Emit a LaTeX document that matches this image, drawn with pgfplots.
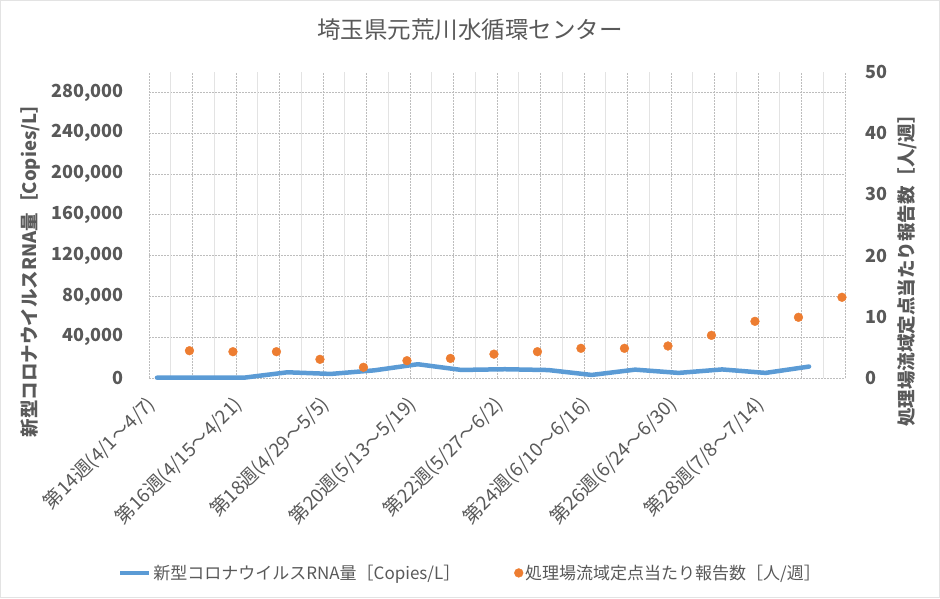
\documentclass[border=0pt]{standalone}
\usepackage{fontspec}
\setmainfont{Noto Sans CJK JP}
\usepackage{pgfplots}
\pgfplotsset{compat=1.18}
\pgfplotsset{legline/.style={legend image code/.code={\draw[##1] (0pt,0pt) -- (29pt,0pt);}}}
\definecolor{txt}{HTML}{595959}
\definecolor{lineblue}{HTML}{5B9BD5}
\definecolor{dotorange}{HTML}{ED7D31}
\definecolor{gridlight}{HTML}{E3E3E3}
\definecolor{griddark}{HTML}{BDBDBD}
\begin{document}
\begin{tikzpicture}[x=1pt,y=1pt]
\useasboundingbox (0,0) rectangle (940,598);
\draw[gridlight, line width=1pt] (0.5,0.5) rectangle (939.5,597.5);
\node[text=txt, font=\fontsize{23.5}{28}\selectfont] at (470,568) {埼玉県元荒川水循環センター};
\node[text=txt, rotate=90, font=\fontsize{18.5}{22}\selectfont\bfseries] at (31,332) {新型コロナウイルスRNA量［Copies/L］};
\node[text=txt, rotate=90, font=\fontsize{18.5}{22}\selectfont\bfseries] at (907,332) {処理場流域定点当たり報告数［人/週］};

\begin{axis}[
  at={(149pt,220pt)}, anchor=south west, scale only axis,
  width=696pt, height=306pt,
  xmin=13.816, xmax=29.827, ymin=0, ymax=300000,
  axis x line*=bottom, axis y line*=left, axis line style={draw=none},
  major tick length=0pt,
  ytick={0,40000,80000,120000,160000,200000,240000,280000},
  scaled y ticks=false,
  /pgf/number format/fixed,
  /pgf/number format/1000 sep={,},
  /pgf/number format/assume math mode=true,
  yticklabel style={text=txt, font=\fontsize{18}{22}\selectfont\bfseries, anchor=east, inner sep=0pt, xshift=-25pt},
  xtick={14,16,18,20,22,24,26,28},
  xticklabels={第14週(4/1～4/7),第16週(4/15～4/21),第18週(4/29～5/5),第20週(5/13～5/19),第22週(5/27～6/2),第24週(6/10～6/16),第26週(6/24～6/30),第28週(7/8～7/14)},
  xticklabel style={xshift=-12pt, yshift=4pt, text=txt, font=\fontsize{19}{22}\selectfont, rotate=45, anchor=north east, inner sep=0pt},
  xticklabel shift=20pt,
  ymajorgrids,
  major grid style={griddark, dash pattern=on 2pt off 1pt, line width=0.8pt},
  clip=false,
]
\pgfplotsinvokeforeach{0,...,15}{
  \draw[gridlight, line width=0.8pt] (rel axis cs:{(#1+0.5)/16},0) -- (rel axis cs:{(#1+0.5)/16},1);
}
\pgfplotsinvokeforeach{0,...,16}{
  \draw[griddark, dash pattern=on 2pt off 1pt, line width=0.8pt] (rel axis cs:{#1/16},0) -- (rel axis cs:{#1/16},1);
}
\addplot[lineblue, line width=4.5pt, line join=round, line cap=round] coordinates {
 (14,300) (15,300) (16,300) (17,5600) (18,4000) (19,7500) (20,13500) (21,7900)
 (22,8600) (23,7800) (24,3000) (25,8200) (26,5000) (27,8400) (28,5000) (29,11200)
};
\end{axis}

\begin{axis}[
  at={(149pt,220pt)}, anchor=south west, scale only axis,
  width=696pt, height=306pt,
  xmin=0, xmax=16, ymin=0, ymax=50,
  hide x axis, axis y line*=right, axis line style={draw=none},
  major tick length=0pt,
  ytick={0,10,20,30,40,50},
  /pgf/number format/assume math mode=true,
  yticklabel style={text=txt, font=\fontsize{18}{22}\selectfont\bfseries, anchor=west, inner sep=0pt, xshift=20pt},
  legend columns=2,
  legend style={at={(0.462,-0.637)}, anchor=center, draw=none, fill=none,
    text=txt, font=\fontsize{17}{20}\selectfont,
    nodes={inner sep=2pt},
    /tikz/every even column/.append style={column sep=52pt}},
  clip=false,
]
\addlegendimage{lineblue, line width=4pt, legline}
\addlegendentry{新型コロナウイルスRNA量［Copies/L］}
\addplot[only marks, mark=*, mark size=4.4pt, draw=dotorange, fill=dotorange] coordinates {
 (0.93,4.46) (1.93,4.30) (2.93,4.30) (3.93,3.05) (4.93,1.75) (5.93,2.83) (6.93,3.20) (7.93,3.90)
 (8.93,4.30) (9.93,4.85) (10.93,4.85) (11.93,5.23) (12.93,6.97) (13.93,9.26) (14.93,9.92) (15.93,13.19)
};
\addlegendentry{処理場流域定点当たり報告数［人/週］}
\end{axis}
\end{tikzpicture}
\end{document}
